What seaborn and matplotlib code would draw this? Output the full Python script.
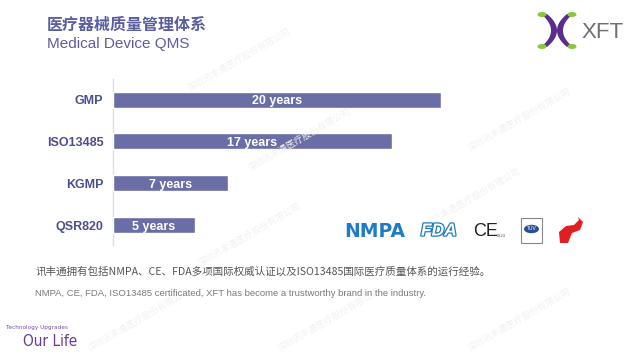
import matplotlib
matplotlib.use("Agg")
import matplotlib.pyplot as plt
import matplotlib.patheffects as pe
import seaborn as sns
import pandas as pd
import numpy as np
from matplotlib.patches import Polygon, Circle, Rectangle

categories = ["GMP", "ISO13485", "KGMP", "QSR820"]
years = [20, 17, 7, 5]
bar_labels = ["20 years", "17 years", "7 years", "5 years"]

title_cn = "医疗器械质量管理体系"
title_en = "Medical Device QMS"
desc_cn = "讯丰通拥有包括NMPA、CE、FDA多项国际权威认证以及ISO13485国际医疗质量体系的运行经验。"
desc_en = "NMPA, CE, FDA, ISO13485 certificated, XFT has become a trustworthy brand in the industry."
watermark = "深圳讯丰通医疗股份有限公司"

sns.set_theme(style="white")
plt.rcParams['font.family'] = ['Liberation Sans', 'Noto Sans CJK SC', 'DejaVu Sans']

W, H = 640, 360
fig = plt.figure(figsize=(6.4, 3.6), dpi=100)
fig.patch.set_facecolor("white")

def fx(px):
    return px / W

def fy(py):
    return 1 - py / H

# faint watermarks (kept inside the canvas)
for (x, y) in [(240, 60), (300, 140), (520, 120), (250, 235), (470, 200), (140, 320), (330, 320), (520, 320)]:
    fig.text(fx(x), fy(y), watermark, fontsize=6.5, color="#f1f1f1", rotation=30,
             ha="center", va="center", zorder=0, family=["Noto Sans CJK SC", "DejaVu Sans"])

df = pd.DataFrame({"cat": categories, "years": years})
ax = fig.add_axes([fx(113), fy(245), fx(24 * 16.4), (245 - 79) / H])
sns.barplot(data=df, y="cat", x="years", orient="h", color="#6b6da6",
            saturation=1, width=0.38, ax=ax, zorder=3)
ax.set_xlim(0, 24)
ax.set_ylim(3.47, -0.49)
ax.set_xlabel("")
ax.set_ylabel("")
ax.set_xticks([])
ax.tick_params(axis="y", length=0, pad=7)
for lab in ax.get_yticklabels():
    lab.set_fontweight("bold")
    lab.set_fontsize(9)
    lab.set_color("#4b4f8e")
for s in ["top", "right", "bottom"]:
    ax.spines[s].set_visible(False)
ax.spines["left"].set_color("#dddddd")
ax.spines["left"].set_linewidth(1)
ax.patch.set_alpha(0)
for i, (v, t) in enumerate(zip(years, bar_labels)):
    ax.text(v / 2, i, t, ha="center", va="center_baseline", color="white",
            fontsize=9, fontweight="bold", zorder=4)

# titles
fig.text(fx(47), fy(25), title_cn, fontsize=11.5, fontweight="bold", color="#5a5e9e",
         ha="left", va="center", family=["Noto Sans CJK SC", "DejaVu Sans"])
fig.text(fx(47), fy(44), title_en, fontsize=11, color="#5a5e9e", ha="left", va="center")

# description
fig.text(fx(35), fy(271), desc_cn, fontsize=7.6, color="#555555", ha="left", va="center",
         family=["Noto Sans CJK SC", "DejaVu Sans"])
fig.text(fx(35), fy(294), desc_en, fontsize=6.8, color="#7a7a7a", ha="left", va="center")

# bottom-left tagline
fig.text(fx(6), fy(327), "Technology Upgrades", fontsize=4.6, color="#7a4ea6", ha="left", va="center",
         family="DejaVu Sans", fontstretch="condensed")
fig.text(fx(23), fy(342), "Our Life", fontsize=11, color="#6a3a9a", ha="left", va="center",
         family="DejaVu Sans", fontstretch="condensed")

# XFT logo
purple = "#5a2d8c"
green = "#8cc63f"
cx = 557
t = np.linspace(-1, 1, 25)
ys = 30.5 + 16.5 * t
outer = 541 + 10 * (1 - t ** 2)
inner = 547 + 10 * (1 - t ** 2)
for sgn in (1, -1):
    xo = cx + sgn * (outer - cx)
    xi = cx + sgn * (inner - cx)
    pts = [(fx(a), fy(b)) for a, b in zip(xo, ys)] + [(fx(a), fy(b)) for a, b in zip(xi[::-1], ys[::-1])]
    fig.patches.append(Polygon(pts, closed=True, transform=fig.transFigure,
                               facecolor=purple, edgecolor="none"))
    for yy in (14.5, 46.5):
        xc = cx + sgn * (542 - cx)
        fig.patches.append(Circle((fx(xc), fy(yy)), fx(4.5), transform=fig.transFigure,
                                  facecolor=green, edgecolor="none"))
fig.text(fx(581), fy(32), "XFT", fontsize=16, color="#707070", ha="left", va="center")

# certification logos
fig.text(fx(344), fy(231), "NMPA", fontsize=13.5, fontweight="bold", color="#1f7cc4",
         ha="left", va="center", family=["DejaVu Sans"])
fig.text(fx(421), fy(231), "FDA", fontsize=12.5, fontweight="bold", fontstyle="italic",
         color="white", ha="left", va="center",
         path_effects=[pe.withStroke(linewidth=1.8, foreground="#1f7cc4")])
fig.text(fx(473), fy(231), "CE", fontsize=13, color="#222222", ha="left", va="center")
fig.text(fx(497), fy(236), "0123", fontsize=3, color="#555555", ha="left", va="center")
fig.patches.append(Rectangle((fx(521), fy(243)), fx(21), 25 / H, transform=fig.transFigure,
                             facecolor="white", edgecolor="#888888", linewidth=0.8))
fig.patches.append(Circle((fx(531.5), fy(229)), fx(7.5), transform=fig.transFigure,
                          facecolor="#2a4f9a", edgecolor="none"))
fig.text(fx(531.5), fy(229), "TÜV", fontsize=3.5, color="white", ha="center", va="center")
fig.patches.append(Polygon([(fx(560), fy(243)), (fx(559), fy(232)), (fx(566), fy(226)), (fx(574), fy(225)),
                            (fx(579), fy(220)), (fx(578), fy(217)), (fx(583), fy(222)), (fx(580), fy(230)),
                            (fx(572), fy(233)), (fx(568), fy(243))],
                           closed=True, transform=fig.transFigure, facecolor="#e02020", edgecolor="none"))

fig.savefig("out.png", dpi=100, facecolor="white")
